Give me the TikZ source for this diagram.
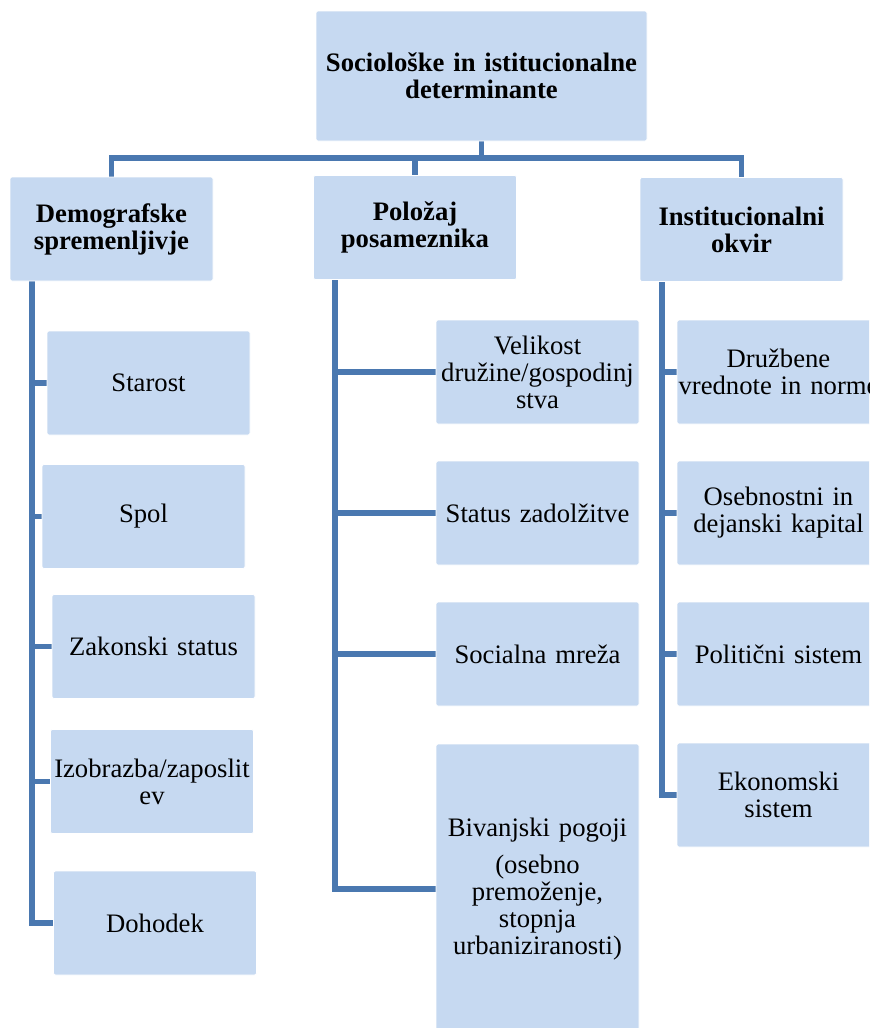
\documentclass[tikz,border=0pt]{standalone}
\usepackage{fontspec}
\setmainfont{Liberation Serif}
\usetikzlibrary{backgrounds}
\definecolor{boxfill}{HTML}{C6D9F1}
\definecolor{linecol}{HTML}{4A78B0}
\tikzset{
  box/.style={fill=boxfill, draw=white, line width=0.6pt, rounded corners=1.5pt,
    minimum width=152.25pt, minimum height=78pt, inner sep=0pt, align=center,
    text width=150pt, font=\fontsize{20}{20.25}\selectfont},
  hbox/.style={box, font=\fontsize{20}{20.25}\selectfont\bfseries},
  conn/.style={draw=linecol, line width=3.9pt, line join=miter}
}
\begin{document}
\begin{tikzpicture}[x=0.75pt, y=-0.75pt]
\useasboundingbox (0,0) rectangle (869,1028);
\clip (0,0) rectangle (869,1028);
% nodes
\node[hbox, minimum width=248.25pt, minimum height=97.5pt, text width=240pt] (top) at (481.5,76) {Sociološke in istitucionalne\\determinante};
\node[hbox] (demo) at (111.5,229) {Demografske\\spremenljivje};
\node[hbox] (pol) at (415,227.5) {Položaj\\posameznika};
\node[hbox] (inst) at (741.5,229.5) {Institucionalni\\okvir};
% left
\node[box] (star) at (148.5,383) {Starost};
\node[box] (spol) at (143.5,516.5) {Spol};
\node[box] (zak) at (153.5,646.5) {Zakonski status};
\node[box] (izo) at (152,781.5) {Izobrazba/zaposlit\\ev};
\node[box] (doh) at (155,923) {Dohodek};
% middle
\node[box] (vel) at (537.5,372) {Velikost\\družine/gospodinj\\stva};
\node[box] (stat) at (537.5,513) {Status zadolžitve};
\node[box] (soc) at (537.5,654) {Socialna mreža};
\node[box, minimum height=217.5pt] (biv) at (537.5,889) {Bivanjski pogoji\\[8pt](osebno\\premoženje,\\stopnja\\urbaniziranosti)};
% right
\node[box] (druz) at (778.5,372) {Družbene\\vrednote in norme};
\node[box] (oseb) at (778.5,513) {Osebnostni in\\dejanski kapital};
\node[box] (polit) at (778.5,654) {Politični sistem};
\node[box] (ekon) at (778.5,795) {Ekonomski\\sistem};
% connectors
\coordinate (bus) at (0,158);
\coordinate (dl) at (32,281);
\coordinate (ml) at (335,279);
\coordinate (rl) at (662,281);
\begin{pgfonlayer}{background}
\draw[conn] (top.south) -- (top.south |- bus) -| (demo.north);
\draw[conn] (top.south |- bus) -| (inst.north);
\draw[conn] (top.south |- bus) -| (pol.north);
% left
\draw[conn] (dl) |- (doh.west);
\foreach \n in {star,spol,zak,izo} \draw[conn] (dl |- \n.west) -- (\n.west);
% middle
\draw[conn] (ml) |- (biv.west);
\foreach \n in {vel,stat,soc} \draw[conn] (ml |- \n.west) -- (\n.west);
% right
\draw[conn] (rl) |- (ekon.west);
\foreach \n in {druz,oseb,polit} \draw[conn] (rl |- \n.west) -- (\n.west);
\end{pgfonlayer}
\end{tikzpicture}
\end{document}
